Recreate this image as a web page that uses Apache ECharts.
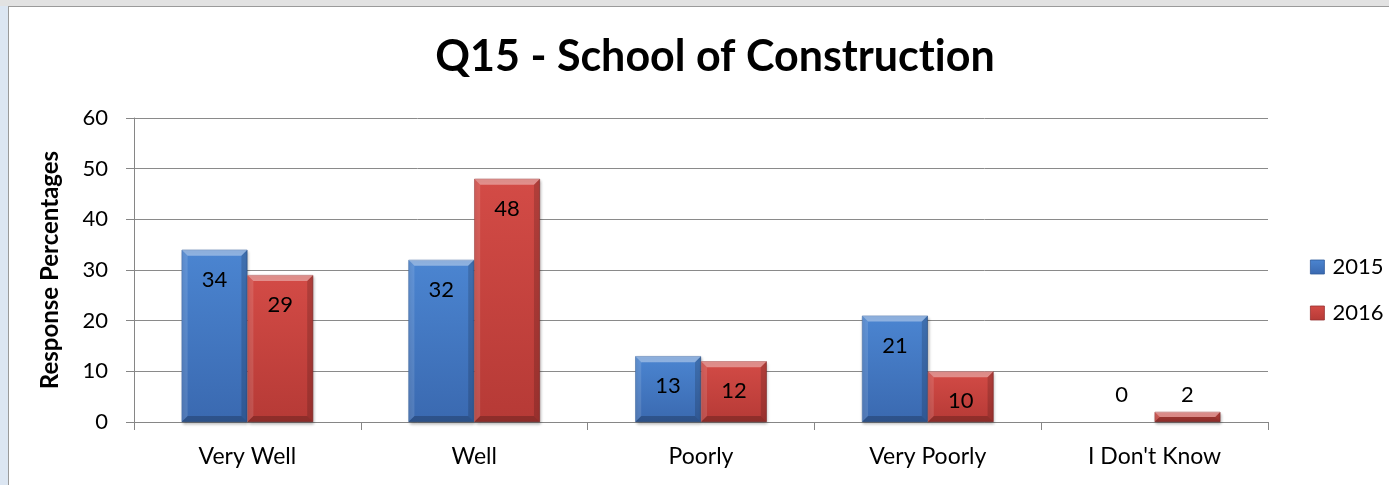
<!DOCTYPE html>
<html>
<head>
<meta charset="utf-8">
<script src="https://cdn.jsdelivr.net/npm/echarts@6/dist/echarts.min.js"></script>
<style>
  html, body { margin: 0; padding: 0; width: 1389px; height: 485px; overflow: hidden; background: #dce6f2; }
  #topband { position: absolute; left: 0; top: 0; width: 1389px; height: 6px; background: #e2e2e2; }
  #sheet { position: absolute; left: 8px; top: 6px; width: 1381px; height: 479px; background: #ffffff;
           border-left: 1px solid #9a9a9a; border-top: 1px solid #9a9a9a; box-sizing: border-box; }
  #chart { position: absolute; left: 0; top: 0; width: 1389px; height: 485px; }
</style>
</head>
<body>
<div id="topband"></div>
<div id="sheet"></div>
<div id="chart"></div>
<script>
// Survey answers, percent of respondents
const categories = ['Very Well', 'Well', 'Poorly', 'Very Poorly', "I Don't Know"];
const seriesNames = ['2015', '2016'];
const values2015 = [34, 32, 13, 21, 0];
const values2016 = [29, 48, 12, 10, 2];
const yTicks = [0, 10, 20, 30, 40, 50, 60];

const FONT = 'Lato, "Open Sans", sans-serif';
const BAR_RATIO = 0.29;          // bar width as a share of the category band
const palette = [
  { top: '#4b85d1', bottom: '#3a69b0', edge: '#2f5a9a' },
  { top: '#d34b46', bottom: '#b63a36', edge: '#953030' }
];

function barItems(values) {
  return values.map(function (v) {
    if (v < 5) {
      const item = { value: v, label: { position: 'top', distance: v === 0 ? 16 : 6 } };
      if (v === 0) item.itemStyle = { borderWidth: 0, shadowBlur: 0, shadowOffsetY: 0, shadowOffsetX: 0 };
      return item;
    }
    return v;
  });
}

function fillFor(idx) {
  const c = palette[idx];
  return { type: 'linear', x: 0, y: 0, x2: 0, y2: 1,
    colorStops: [{ offset: 0, color: c.top }, { offset: 1, color: c.bottom }] };
}

function barSeries(idx, values) {
  const c = palette[idx];
  return {
    name: seriesNames[idx],
    type: 'bar',
    data: barItems(values),
    barWidth: (BAR_RATIO * 100) + '%',
    barGap: '0%',
    z: 2,
    itemStyle: {
      color: fillFor(idx),
      borderColor: c.edge,
      borderWidth: 0.6,
      shadowColor: 'rgba(0,0,0,0.28)',
      shadowBlur: 3,
      shadowOffsetX: 1,
      shadowOffsetY: 2
    },
    label: {
      show: true,
      position: 'insideTop',
      distance: 19,
      color: '#000',
      fontFamily: FONT,
      fontSize: 22
    },
    emphasis: { disabled: true }
  };
}

// Bevel faces drawn over each bar, positioned through the same axes
function bevelSeries(idx, values) {
  return {
    type: 'custom',
    silent: true,
    z: 3,
    data: values.map(function (v, i) { return [i, v]; }),
    encode: { x: 0, y: 1 },
    renderItem: function (params, api) {
      const v = api.value(1);
      if (!v) return null;
      const topPt = api.coord([api.value(0), v]);
      const basePt = api.coord([api.value(0), 0]);
      const w = api.size([1, 0])[0] * BAR_RATIO;
      const x0 = idx === 0 ? topPt[0] - w : topPt[0];
      const x1 = x0 + w;
      const y0 = topPt[1];
      const yb = basePt[1];
      const b = Math.min(6, (yb - y0) / 2, w / 2);
      const face = function (pts, fill) {
        return { type: 'polygon', shape: { points: pts }, style: { fill: fill } };
      };
      return {
        type: 'group',
        children: [
          face([[x0, y0], [x1, y0], [x1 - b, y0 + b], [x0 + b, y0 + b]], 'rgba(255,255,255,0.38)'),
          face([[x0, y0], [x0 + b, y0 + b], [x0 + b, yb - b], [x0, yb]], 'rgba(255,255,255,0.12)'),
          face([[x1, y0], [x1, yb], [x1 - b, yb - b], [x1 - b, y0 + b]], 'rgba(0,0,0,0.16)'),
          face([[x0, yb], [x0 + b, yb - b], [x1 - b, yb - b], [x1, yb]], 'rgba(0,0,0,0.22)')
        ]
      };
    }
  };
}

const chart = echarts.init(document.getElementById('chart'), null, { renderer: 'canvas' });

const titleStyle = { fontFamily: FONT, fontWeight: 'bold', fontSize: 43, color: '#000' };

chart.setOption({
  backgroundColor: 'transparent',
  animation: false,
  title: {
    // "ion" is a separate rich-text run so "t" and "i" stay separate glyphs
    text: 'Q15 - School of Construct{s|ion}',
    left: 710,
    top: 31,
    textAlign: 'center',
    textStyle: Object.assign({ rich: { s: Object.assign({}, titleStyle) } }, titleStyle)
  },
  legend: {
    orient: 'vertical',
    left: 1310,
    top: 256,
    padding: 0,
    itemWidth: 14,
    itemHeight: 14,
    itemGap: 24,
    icon: 'rect',
    data: seriesNames.map(function (n, i) {
      return { name: n, itemStyle: { color: fillFor(i), borderColor: palette[i].edge, borderWidth: 0.8 } };
    }),
    textStyle: { fontFamily: FONT, fontSize: 22, color: '#000', padding: [0, 0, 0, 3], lineHeight: 22 },
    selectedMode: false
  },
  grid: { left: 134, right: 121, top: 118, bottom: 63, containLabel: false },
  xAxis: {
    type: 'category',
    data: categories,
    axisLine: { show: true, lineStyle: { color: '#868686', width: 1 } },
    axisTick: { show: true, length: 8, alignWithLabel: false, lineStyle: { color: '#868686' } },
    axisLabel: { color: '#000', fontFamily: FONT, fontSize: 23, margin: 23 }
  },
  yAxis: {
    type: 'value',
    min: yTicks[0],
    max: yTicks[yTicks.length - 1],
    interval: yTicks[1] - yTicks[0],
    name: 'Response Percentages',
    nameLocation: 'middle',
    nameGap: 72,
    nameTextStyle: { fontFamily: FONT, fontWeight: 'bold', fontSize: 24, color: '#000' },
    axisLine: { show: true, lineStyle: { color: '#868686', width: 1 } },
    axisTick: { show: true, length: 8, lineStyle: { color: '#868686' } },
    axisLabel: { color: '#000', fontFamily: FONT, fontSize: 22, margin: 26 },
    splitLine: { show: true, lineStyle: { color: '#8a8a8a', width: 1 } }
  },
  series: [
    barSeries(0, values2015),
    barSeries(1, values2016),
    bevelSeries(0, values2015),
    bevelSeries(1, values2016)
  ]
});
</script>
</body>
</html>
